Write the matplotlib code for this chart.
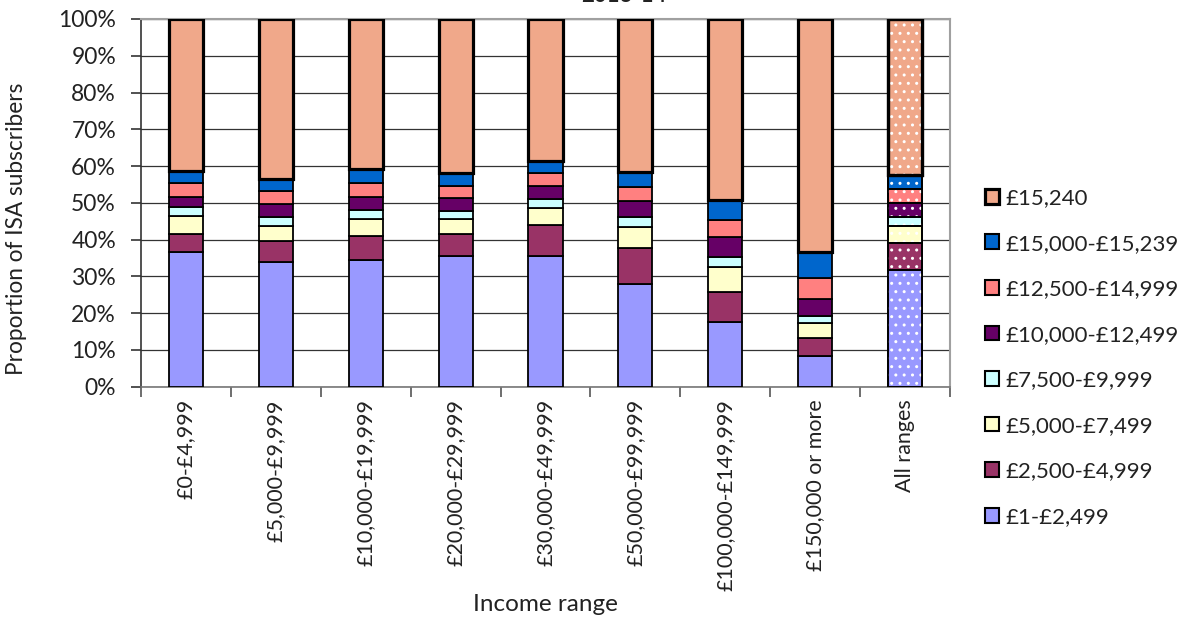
import numpy as np
import matplotlib.pyplot as plt
from matplotlib.patches import Patch

plt.rcParams['font.family'] = ['Lato', 'DejaVu Sans']

categories = ['£0-£4,999', '£5,000-£9,999', '£10,000-£19,999', '£20,000-£29,999',
              '£30,000-£49,999', '£50,000-£99,999', '£100,000-£149,999',
              '£150,000 or more', 'All ranges']

bands = ['£1-£2,499', '£2,500-£4,999', '£5,000-£7,499', '£7,500-£9,999',
         '£10,000-£12,499', '£12,500-£14,999', '£15,000-£15,239', '£15,240']

# share of subscribers (%) in each subscription band, per income range
band_1 = [36.6, 34.0, 34.4, 35.5, 35.5, 27.9, 17.7, 8.3, 31.7]
band_2 = [4.8, 5.7, 6.7, 5.9, 8.4, 9.7, 8.1, 4.9, 7.3]
band_3 = [5.1, 4.1, 4.5, 4.2, 4.6, 5.9, 6.7, 4.0, 4.8]
band_4 = [2.5, 2.4, 2.5, 2.2, 2.5, 2.7, 2.9, 2.1, 2.4]
band_5 = [2.7, 3.5, 3.4, 3.4, 3.7, 4.4, 5.4, 4.5, 3.7]
band_6 = [3.6, 3.5, 3.8, 3.5, 3.5, 3.7, 4.5, 5.8, 3.8]
band_7 = [3.4, 3.3, 3.9, 3.3, 3.2, 4.0, 5.5, 6.9, 3.9]
band_8 = [41.3, 43.5, 40.8, 42.0, 38.6, 41.7, 49.2, 63.5, 42.4]

series = [band_1, band_2, band_3, band_4, band_5, band_6, band_7, band_8]
colors = ['#9999FF', '#993366', '#FFFFCC', '#CCFFFF',
          '#660066', '#FF8080', '#0066CC', '#F0A88A']

fig = plt.figure(figsize=(11.82, 6.18), dpi=100)
ax = fig.add_axes([0.1193, 0.3743, 0.6844, 0.5950])

x = np.arange(len(categories))
width = 0.38
bottom = np.zeros(len(categories))
for i, (vals, col) in enumerate(zip(series, colors)):
    vals = np.array(vals)
    lw = 2.3 if i == len(series) - 1 else 1.3
    ax.bar(x, vals, width, bottom=bottom, color=col, edgecolor='black',
           linewidth=lw, zorder=3)
    # dotted overlay on the "All ranges" bar
    ax.bar(x[-1], vals[-1], width, bottom=bottom[-1], facecolor='none',
           edgecolor='white', linewidth=0, hatch='..', zorder=3.5)
    ax.bar(x[-1], vals[-1], width, bottom=bottom[-1], facecolor='none',
           edgecolor='black', linewidth=lw, zorder=4)
    bottom += vals

ax.set_xlim(-0.5, len(categories) - 0.5)
ax.set_ylim(0, 100)
ax.set_yticks(np.arange(0, 101, 10))
ax.set_yticklabels([f'{v}%' for v in range(0, 101, 10)])
ax.yaxis.grid(True, color='#333333', linewidth=0.9, zorder=0)
ax.set_axisbelow(True)

ax.set_xticks(x)
ax.set_xticklabels(categories, rotation=90, va='top')
ax.set_xticks(np.arange(-0.5, len(categories)), minor=True)
ax.tick_params(axis='x', which='major', length=0, pad=9, labelsize=15.5, colors='#222222')
ax.tick_params(axis='x', which='minor', length=7, width=1.2, color='#555555')
ax.tick_params(axis='y', length=7, width=1.2, pad=11, labelsize=16.5,
               colors='#222222', color='#333333')

for side in ['top', 'right']:
    ax.spines[side].set_color('#A0A0A0')
    ax.spines[side].set_linewidth(1.5)
ax.spines['left'].set_color('#333333')
ax.spines['left'].set_linewidth(1.2)
ax.spines['bottom'].set_color('#777777')
ax.spines['bottom'].set_linewidth(1.2)

ax.set_xlabel('Income range', fontsize=17.5, color='#222222', labelpad=2)
ax.set_ylabel('Proportion of ISA subscribers', fontsize=16.3, color='#222222')
ax.yaxis.set_label_coords(-0.141, 0.43)

fig.text(0.528, 0.996, '2013-14', ha='center', va='baseline', fontsize=16,
         fontweight='bold', color='#222222')

handles = [Patch(facecolor=c, edgecolor='black',
                 linewidth=2.3 if i == len(colors) - 1 else 1.5)
           for i, c in enumerate(colors)]
fig.legend(handles[::-1], bands[::-1], loc='center left',
           bbox_to_anchor=(0.833, 0.4215), bbox_transform=fig.transFigure,
           frameon=False, fontsize=16, labelspacing=1.15, handlelength=0.65,
           handleheight=0.65, handletextpad=0.3, borderpad=0, borderaxespad=0,
           labelcolor='#222222')

fig.savefig('out.png', dpi=100)
